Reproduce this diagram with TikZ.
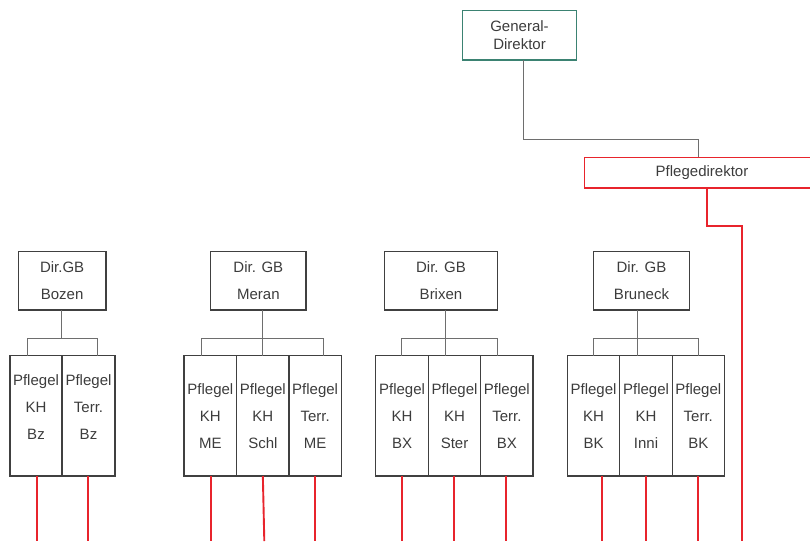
\documentclass[tikz,border=0pt]{standalone}
\usepackage{fontspec}
\setmainfont{Liberation Sans}
\definecolor{boxgray}{HTML}{404040}
\definecolor{linegray}{HTML}{6E6E6E}
\definecolor{redline}{HTML}{E8242C}
\definecolor{gdteal}{HTML}{3B8272}
\definecolor{txtgray}{HTML}{3C3C3C}
\begin{document}
\begin{tikzpicture}[x=1pt,y=-1pt,
  box/.style={draw=boxgray, line width=1.2pt, inner sep=0pt, outer sep=0pt,
    anchor=north west, text=txtgray, align=center},
  dirbox/.style={box, minimum height=58.3pt, font=\fontsize{15}{27}\selectfont},
  kid/.style={box, minimum height=120.3pt},
  kidtext/.style={inner sep=0pt, text=txtgray, align=center,
    font=\fontsize{15}{27}\selectfont},
  conn/.style={draw=linegray, line width=1pt},
  redl/.style={draw=redline, line width=1.9pt}]
\clip (0,0) rectangle (810,541);

% top level
\node[box, draw=gdteal, line width=1.4pt, minimum width=113.6pt, minimum height=49.7pt,
  font=\fontsize{15}{18}\selectfont] (gd) at (462.7,10.3) {General-\\Direktor};
\node[box, draw=redline, line width=1.6pt, minimum width=235.4pt, minimum height=30.7pt,
  font=\fontsize{15}{18}\selectfont] (pd) at (584.3,157.3) {Pflegedirektor};

\coordinate (gdbend) at (523.7,139.7);
\coordinate (pdbend) at (698.3,139.7);
\draw[conn] (gdbend |- gd.south) -- (gdbend) -- (pdbend) -- (pdbend |- pd.north);

\coordinate (pdr1) at (707,225.7);
\coordinate (pdr2) at (742,225.7);
\coordinate (pdend) at (742,541);
\draw[redl] (pdr1 |- pd.south) -- (pdr1) -- (pdr2) -- (pdend);

% district directors
\node[dirbox, minimum width=87.7pt] (dirbz) at (18.3,251.7) {Dir.GB\\Bozen};
\node[dirbox, minimum width=95.3pt] (dirme) at (210.7,251.7) {Dir. GB\\Meran};
\node[dirbox, minimum width=113.4pt] (dirbx) at (384.3,251.7) {Dir. GB\\Brixen};
\node[dirbox, minimum width=95.6pt] (dirbk) at (593.7,251.7) {Dir. GB\\Bruneck};

% nursing units
\node[kid, minimum width=52pt] (kbz1) at (10,355.7) {};
\node[kid, minimum width=53pt] (kbz2) at (62,355.7) {};
\node[kid, minimum width=52.7pt] (kme1) at (184,355.7) {};
\node[kid, minimum width=52.3pt] (kme2) at (236.7,355.7) {};
\node[kid, minimum width=52.3pt] (kme3) at (289,355.7) {};
\node[kid, minimum width=52.6pt] (kbx1) at (375.7,355.7) {};
\node[kid, minimum width=52.4pt] (kbx2) at (428.3,355.7) {};
\node[kid, minimum width=52.3pt] (kbx3) at (480.7,355.7) {};
\node[kid, minimum width=52.4pt] (kbk1) at (567.3,355.7) {};
\node[kid, minimum width=52.6pt] (kbk2) at (619.7,355.7) {};
\node[kid, minimum width=52pt] (kbk3) at (672.3,355.7) {};

\node[kidtext] (tbz1) at ([yshift=9pt]kbz1.center) {Pflegel\\KH\\Bz};
\node[kidtext] (tbz2) at ([yshift=9pt]kbz2.center) {Pflegel\\Terr.\\Bz};
\node[kidtext] (tme1) at (kme1.center) {Pflegel\\KH\\ME};
\node[kidtext] (tme2) at (kme2.center) {Pflegel\\KH\\Schl};
\node[kidtext] (tme3) at (kme3.center) {Pflegel\\Terr.\\ME};
\node[kidtext] (tbx1) at (kbx1.center) {Pflegel\\KH\\BX};
\node[kidtext] (tbx2) at (kbx2.center) {Pflegel\\KH\\Ster};
\node[kidtext] (tbx3) at (kbx3.center) {Pflegel\\Terr.\\BX};
\node[kidtext] (tbk1) at (kbk1.center) {Pflegel\\KH\\BK};
\node[kidtext] (tbk2) at (kbk2.center) {Pflegel\\KH\\Inni};
\node[kidtext] (tbk3) at (kbk3.center) {Pflegel\\Terr.\\BK};

% branch connectors
\coordinate (bzL) at (27.7,338.3);
\coordinate (bzT) at (61.7,338.3);
\coordinate (bzR) at (97,338.3);
\draw[conn] (bzT |- dirbz.south) -- (bzT);
\draw[conn] (bzL |- kbz1.north) -- (bzL) -- (bzR) -- (bzR |- kbz2.north);

\coordinate (meL) at (201.7,338.3);
\coordinate (meT) at (262.7,338.3);
\coordinate (meR) at (323.7,338.3);
\draw[conn] (meT |- dirme.south) -- (meT |- kme2.north);
\draw[conn] (meL |- kme1.north) -- (meL) -- (meR) -- (meR |- kme3.north);

\coordinate (bxL) at (401.7,338.3);
\coordinate (bxT) at (445.7,338.3);
\coordinate (bxR) at (497.7,338.3);
\draw[conn] (bxT |- dirbx.south) -- (bxT |- kbx2.north);
\draw[conn] (bxL |- kbx1.north) -- (bxL) -- (bxR) -- (bxR |- kbx3.north);

\coordinate (bkL) at (593.7,338.3);
\coordinate (bkT) at (637.3,338.3);
\coordinate (bkR) at (698,338.3);
\draw[conn] (bkT |- dirbk.south) -- (bkT |- kbk2.north);
\draw[conn] (bkL |- kbk1.north) -- (bkL) -- (bkR) -- (bkR |- kbk3.north);

% red lines leaving the units (lower ends)
\coordinate (ebz1) at (37,541);
\coordinate (ebz2) at (88,541);
\coordinate (eme1) at (211,541);
\coordinate (eme3) at (315,541);
\coordinate (ebx1) at (402,541);
\coordinate (ebx2) at (454,541);
\coordinate (ebx3) at (506,541);
\coordinate (ebk1) at (602,541);
\coordinate (ebk2) at (646,541);
\coordinate (ebk3) at (698,541);
\foreach \k in {bz1,bz2,me1,me3,bx1,bx2,bx3,bk1,bk2,bk3}
  \draw[redl] (e\k |- k\k.south) -- (e\k);
\coordinate (eme2) at (264.3,541);
\draw[redl] (kme2.south) -- (eme2);
\end{tikzpicture}
\end{document}
